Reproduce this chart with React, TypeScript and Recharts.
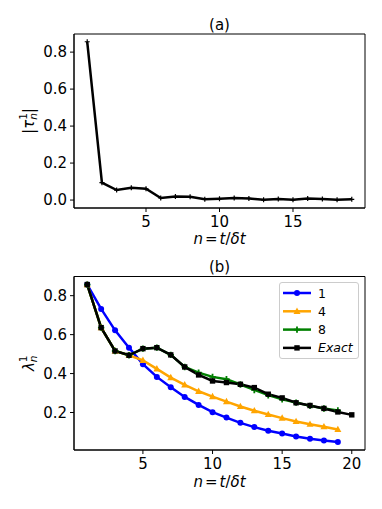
import React from "react";
import { Label, Line, LineChart, ReferenceArea, XAxis, YAxis } from "recharts";

const FONT = "DejaVu Sans, sans-serif";

// panel (a)
const nTop = [1, 2, 3, 4, 5, 6, 7, 8, 9, 10, 11, 12, 13, 14, 15, 16, 17, 18, 19];
const tauAbs = [0.856, 0.094, 0.054, 0.067, 0.061, 0.011, 0.019, 0.018, 0.004, 0.007, 0.011, 0.009, 0.001, 0.005, 0.001, 0.008, 0.005, 0.002, 0.004];

// panel (b)
const nBottom = [1, 2, 3, 4, 5, 6, 7, 8, 9, 10, 11, 12, 13, 14, 15, 16, 17, 18, 19, 20];
const lambda1 = [0.857, 0.732, 0.622, 0.533, 0.448, 0.383, 0.33, 0.28, 0.239, 0.202, 0.174, 0.147, 0.125, 0.106, 0.092, 0.077, 0.065, 0.056, 0.048];
const lambda4 = [0.857, 0.636, 0.516, 0.494, 0.468, 0.424, 0.379, 0.342, 0.309, 0.282, 0.256, 0.231, 0.209, 0.19, 0.171, 0.154, 0.14, 0.127, 0.113];
const lambda8 = [0.857, 0.636, 0.516, 0.494, 0.528, 0.533, 0.496, 0.434, 0.405, 0.383, 0.371, 0.344, 0.316, 0.289, 0.268, 0.251, 0.234, 0.221, 0.21];
const lambdaExact = [0.857, 0.636, 0.516, 0.494, 0.528, 0.533, 0.496, 0.434, 0.393, 0.362, 0.354, 0.345, 0.328, 0.294, 0.275, 0.25, 0.236, 0.221, 0.203, 0.188];

const legendNames = ["1", "4", "8", "Exact"];
const colors = ["#0000ff", "#ffa500", "#008000", "#000000"];

const topData = nTop.map((n, i) => ({ n, tau: tauAbs[i] }));
const bottomData = nBottom.map((n, i) => ({
  n,
  l1: lambda1[i],
  l4: lambda4[i],
  l8: lambda8[i],
  exact: lambdaExact[i],
}));

const tickStyle = { fontFamily: FONT, fontSize: 15, fill: "#000" };

function plusDot(color: string, s: number, w: number) {
  return (p: any) => {
    if (p.cx == null || p.cy == null) return <g key={p.index} />;
    return (
      <path
        key={p.index}
        d={`M${p.cx - s},${p.cy}H${p.cx + s}M${p.cx},${p.cy - s}V${p.cy + s}`}
        stroke={color}
        strokeWidth={w}
      />
    );
  };
}
const circleDot = (color: string) => (p: any) =>
  p.cx == null ? <g key={p.index} /> : <circle key={p.index} cx={p.cx} cy={p.cy} r={3} fill={color} />;
const triDot = (color: string) => (p: any) =>
  p.cx == null ? (
    <g key={p.index} />
  ) : (
    <polygon
      key={p.index}
      points={`${p.cx},${p.cy - 3.8} ${p.cx - 3.5},${p.cy + 2.6} ${p.cx + 3.5},${p.cy + 2.6}`}
      fill={color}
    />
  );
const squareDot = (color: string) => (p: any) =>
  p.cx == null ? <g key={p.index} /> : <rect key={p.index} x={p.cx - 2.7} y={p.cy - 2.7} width={5.4} height={5.4} fill={color} />;

const dotFns = [circleDot(colors[0]), triDot(colors[1]), plusDot(colors[2], 3.2, 1.8), squareDot(colors[3])];

function XLabel({ viewBox, dy }: any) {
  const x = viewBox.x + viewBox.width / 2;
  const y = viewBox.y + dy;
  return (
    <text x={x} y={y} textAnchor="middle" fontFamily={FONT} fontSize={15} fill="#000">
      <tspan fontStyle="italic">n</tspan>
      <tspan dx={2}>=</tspan>
      <tspan fontStyle="italic" dx={2}>t</tspan>
      <tspan>/</tspan>
      <tspan fontStyle="italic">δt</tspan>
    </text>
  );
}

function YLabel({ viewBox, sym }: any) {
  const x = 29;
  const y = viewBox.y + viewBox.height / 2;
  const bars = sym === "τ";
  return (
    <text x={x} y={y} transform={`rotate(-90, ${x}, ${y})`} textAnchor="middle" dominantBaseline="central" fontFamily={FONT} fontSize={15} fill="#000">
      {bars && <tspan>|</tspan>}
      <tspan fontStyle="italic">{sym}</tspan>
      <tspan fontSize={10.5} dy={-6}>1</tspan>
      <tspan fontSize={10.5} fontStyle="italic" dx={-6.7} dy={10}>n</tspan>
      {bars && <tspan dy={-4}>|</tspan>}
    </text>
  );
}

function LegendBox() {
  return (
    <div
      style={{
        position: "absolute",
        left: 279,
        top: 282,
        width: 80,
        height: 77,
        border: "1px solid #cccccc",
        borderRadius: 3,
        background: "rgba(255,255,255,0.8)",
        boxSizing: "border-box",
      }}
    >
      <svg width={78} height={75} style={{ display: "block" }}>
        {legendNames.map((name, i) => {
          const cy = 10 + i * 18.3;
          const Dot = dotFns[i];
          return (
            <g key={name}>
              <line x1={3} x2={31} y1={cy} y2={cy} stroke={colors[i]} strokeWidth={2.5} />
              {Dot({ cx: 17, cy, index: i })}
              <text
                x={38}
                y={cy}
                dominantBaseline="central"
                fontFamily={FONT}
                fontSize={12.5}
                fontStyle={name === "Exact" ? "italic" : "normal"}
                fill="#000"
              >
                {name}
              </text>
            </g>
          );
        })}
      </svg>
    </div>
  );
}

export default function App() {
  return (
    <div style={{ position: "absolute", left: 0, top: 0, width: 382, height: 509, background: "#fff" }}>
      <div style={{ position: "absolute", left: 0, top: 0 }}>
        <LineChart width={382} height={250} data={topData} margin={{ top: 34, right: 17, bottom: 12, left: 24 }}>
          <XAxis
            dataKey="n"
            type="number"
            domain={[0.1, 19.9]}
            ticks={[5, 10, 15]}
            allowDataOverflow
            height={30}
            tickSize={4}
            tickMargin={4}
            stroke="#000"
            tick={tickStyle}
          >
            <Label content={(p: any) => <XLabel {...p} dy={36} />} />
          </XAxis>
          <YAxis
            type="number"
            domain={[-0.043, 0.898]}
            ticks={[0, 0.2, 0.4, 0.6, 0.8]}
            allowDataOverflow
            width={50}
            tickSize={4}
            tickMargin={3}
            stroke="#000"
            tick={tickStyle}
            tickFormatter={(v: number) => v.toFixed(1)}
          >
            <Label content={(p: any) => <YLabel {...p} sym="τ" />} />
          </YAxis>
          <ReferenceArea x1={0.1} x2={19.9} y1={-0.043} y2={0.898} fill="none" stroke="#000" strokeWidth={1} ifOverflow="extendDomain" />
          <Line dataKey="tau" stroke="#000" strokeWidth={2.5} dot={plusDot("#000", 2.5, 1.2)} isAnimationActive={false} />
          <text x={219.5} y={30} textAnchor="middle" fontFamily={FONT} fontSize={15} fill="#000">
            (a)
          </text>
        </LineChart>
      </div>
      <div style={{ position: "absolute", left: 0, top: 250 }}>
        <LineChart width={382} height={259} data={bottomData} margin={{ top: 26.5, right: 17, bottom: 29, left: 24 }}>
          <XAxis
            dataKey="n"
            type="number"
            domain={[0.05, 20.95]}
            ticks={[5, 10, 15, 20]}
            allowDataOverflow
            height={30}
            tickSize={4}
            tickMargin={4}
            stroke="#000"
            tick={tickStyle}
          >
            <Label content={(p: any) => <XLabel {...p} dy={37} />} />
          </XAxis>
          <YAxis
            type="number"
            domain={[0.0075, 0.8985]}
            ticks={[0.2, 0.4, 0.6, 0.8]}
            allowDataOverflow
            width={50}
            tickSize={4}
            tickMargin={3}
            stroke="#000"
            tick={tickStyle}
            tickFormatter={(v: number) => v.toFixed(1)}
          >
            <Label content={(p: any) => <YLabel {...p} sym="λ" />} />
          </YAxis>
          <ReferenceArea x1={0.05} x2={20.95} y1={0.0075} y2={0.8985} fill="none" stroke="#000" strokeWidth={1} ifOverflow="extendDomain" />
          <Line dataKey="l1" stroke={colors[0]} strokeWidth={2.5} dot={dotFns[0]} isAnimationActive={false} />
          <Line dataKey="l4" stroke={colors[1]} strokeWidth={2.5} dot={dotFns[1]} isAnimationActive={false} />
          <Line dataKey="l8" stroke={colors[2]} strokeWidth={2.5} dot={dotFns[2]} isAnimationActive={false} />
          <Line dataKey="exact" stroke={colors[3]} strokeWidth={2.5} dot={dotFns[3]} isAnimationActive={false} />
          <text x={219.5} y={22} textAnchor="middle" fontFamily={FONT} fontSize={15} fill="#000">
            (b)
          </text>
        </LineChart>
      </div>
      <LegendBox />
    </div>
  );
}
